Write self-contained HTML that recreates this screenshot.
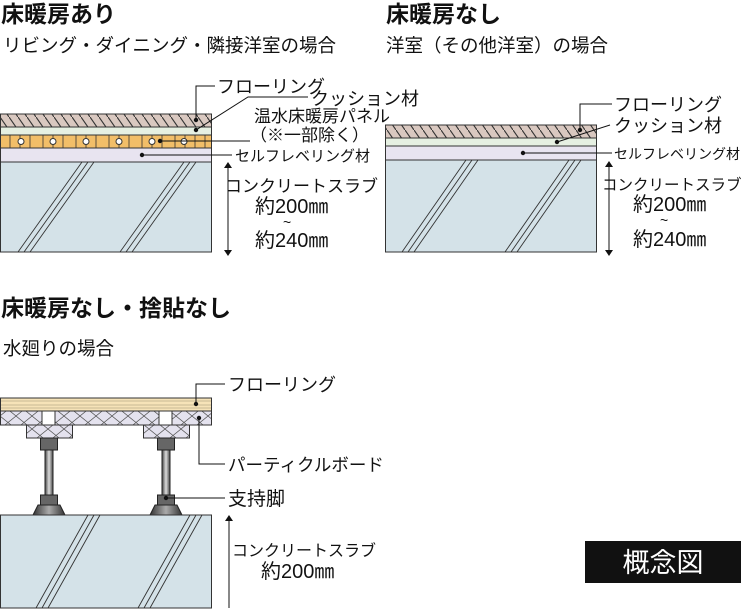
<!DOCTYPE html>
<html><head><meta charset="utf-8"><style>
html,body{margin:0;padding:0;background:#fff;width:745px;height:613px;overflow:hidden}
svg{display:block}
text{font-family:"Liberation Sans","Noto Sans CJK JP",sans-serif;fill:#111}
</style></head><body>
<svg width="745" height="613" viewBox="0 0 745 613" xmlns="http://www.w3.org/2000/svg">
<defs>
<pattern id="hatch" width="9" height="13" patternUnits="userSpaceOnUse">
<rect width="9" height="13" fill="#d9c8c0"/>
<line x1="0" y1="0" x2="9" y2="13" stroke="#333" stroke-width="1.1"/>
</pattern>
<pattern id="xh" width="16" height="13" patternUnits="userSpaceOnUse">
<rect width="16" height="13" fill="#e4e2ee"/>
<path d="M0 0L16 13M16 0L0 13" stroke="#555" stroke-width="0.7"/>
</pattern>
<pattern id="wood" width="10" height="13" patternUnits="userSpaceOnUse">
<rect width="10" height="13" fill="#f6e3b8"/>
<path d="M0 2H10M0 5H10M0 8H10M0 11H10" stroke="#b9ab8a" stroke-width="0.8"/>
</pattern>
<linearGradient id="stem" x1="0" x2="1"><stop offset="0" stop-color="#444"/><stop offset="0.5" stop-color="#ddd"/><stop offset="1" stop-color="#444"/></linearGradient>
<linearGradient id="foot" x1="0" x2="1"><stop offset="0" stop-color="#333"/><stop offset="0.5" stop-color="#aaa"/><stop offset="1" stop-color="#333"/></linearGradient>
</defs>

<!-- Titles -->
<text x="1" y="22" font-size="23" font-weight="bold">床暖房あり</text>
<text x="3" y="52" font-size="18.5">リビング・ダイニング・隣接洋室の場合</text>
<text x="386" y="22" font-size="23" font-weight="bold">床暖房なし</text>
<text x="386" y="52" font-size="18.5">洋室（その他洋室）の場合</text>
<text x="1" y="316" font-size="23" font-weight="bold">床暖房なし・捨貼なし</text>
<text x="3" y="355" font-size="18.5">水廻りの場合</text>

<!-- Left diagram -->
<rect x="0.5" y="114" width="211" height="13" fill="url(#hatch)" stroke="#333"/>
<rect x="0.5" y="127" width="211" height="8" fill="#e6f0e2" stroke="#333"/>
<rect x="0.5" y="135" width="211" height="13" fill="#f2be68" stroke="#333"/>
<g stroke="#333" stroke-width="0.8">
<path d="M10 135v13M20 135v13M30 135v13M43 135v13M53 135v13M63 135v13M76 135v13M86 135v13M96 135v13M109 135v13M119 135v13M129 135v13M142 135v13M152 135v13M162 135v13M175 135v13M185 135v13M195 135v13M205 135v13"/>
</g>
<g fill="#fff" stroke="#333"><circle cx="21" cy="141.5" r="3"/><circle cx="53" cy="141.5" r="3"/><circle cx="86" cy="141.5" r="3"/><circle cx="119" cy="141.5" r="3"/><circle cx="152" cy="141.5" r="3"/><circle cx="184" cy="141.5" r="3"/></g>
<rect x="0.5" y="148" width="211" height="14" fill="#e8e4f0" stroke="#333"/>
<rect x="0.5" y="162" width="211" height="90" fill="#d4e2e8" stroke="#333"/>
<g stroke="#333" stroke-width="0.9" fill="none">
<path d="M18 252L82 162M24 252L88 162M30 252L94 162M120 252L184 162M126 252L190 162M132 252L196 162"/>
</g>
<g stroke="#111" stroke-width="1" fill="none">
<path d="M196 120V86H215"/>
<path d="M196 130L248 97H308"/>
<path d="M160 141L250 141"/>
<path d="M142 155H232"/>
<path d="M228 167V251"/>
</g>
<g fill="#111"><circle cx="196" cy="120" r="2.2"/><circle cx="196" cy="130" r="2.2"/><circle cx="160" cy="141" r="2.2"/><circle cx="142" cy="155" r="2.2"/>
<path d="M224 168h8l-4 -6zM224 250h8l-4 6z"/></g>
<text x="217" y="93" font-size="18">フローリング</text>
<text x="311" y="105" font-size="18">クッション材</text>
<text x="254" y="122" font-size="17">温水床暖房パネル</text>
<text x="250" y="141" font-size="17">（※一部除く）</text>
<text x="235" y="161" font-size="15">セルフレベリング材</text>
<text x="225" y="192" font-size="17">コンクリートスラブ</text>
<text x="255" y="213" font-size="20">約200㎜</text>
<text x="283" y="227" font-size="14">~</text>
<text x="255" y="247" font-size="20">約240㎜</text>

<!-- Right diagram -->
<rect x="385.5" y="125" width="211" height="13" fill="url(#hatch)" stroke="#333"/>
<rect x="385.5" y="138" width="211" height="8" fill="#e6f0e2" stroke="#333"/>
<rect x="385.5" y="146" width="211" height="14" fill="#e8e4f0" stroke="#333"/>
<rect x="385.5" y="160" width="211" height="92" fill="#d4e2e8" stroke="#333"/>
<g stroke="#333" stroke-width="0.9" fill="none">
<path d="M402 252L466 160M408 252L472 160M414 252L478 160M505 252L569 160M511 252L575 160M517 252L581 160"/>
</g>
<g stroke="#111" stroke-width="1" fill="none">
<path d="M580 130V104H612"/>
<path d="M557 142L610 125"/>
<path d="M523 153H612"/>
<path d="M609 166V251"/>
</g>
<g fill="#111"><circle cx="580" cy="130" r="2.2"/><circle cx="557" cy="142" r="2.2"/><circle cx="523" cy="153" r="2.2"/>
<path d="M605 167h8l-4 -6zM605 250h8l-4 6z"/></g>
<text x="614" y="111" font-size="18">フローリング</text>
<text x="614" y="132" font-size="18">クッション材</text>
<text x="614" y="159" font-size="14">セルフレベリング材</text>
<text x="602" y="190" font-size="15.5">コンクリートスラブ</text>
<text x="633" y="211" font-size="20">約200㎜</text>
<text x="660" y="225" font-size="14">~</text>
<text x="633" y="246" font-size="20">約240㎜</text>

<!-- Bottom diagram -->
<rect x="0.5" y="398" width="211" height="13" fill="url(#wood)" stroke="#333"/>
<rect x="0.5" y="411" width="211" height="14" fill="url(#xh)" stroke="#333"/>
<rect x="42" y="411" width="13" height="14" fill="#fff" stroke="#333"/>
<rect x="159" y="411" width="13" height="14" fill="#fff" stroke="#333"/>
<g>
<rect x="26.5" y="425" width="46" height="13" fill="url(#xh)" stroke="#333"/>
<rect x="40.5" y="438" width="17" height="12" fill="#666" stroke="#222"/>
<rect x="45" y="450" width="8" height="45" fill="url(#stem)" stroke="#222"/>
<rect x="40.5" y="495" width="17" height="10" fill="#666" stroke="#222"/>
<path d="M38 505h22l5 10H33z" fill="url(#foot)" stroke="#222"/>
</g>
<g transform="translate(117 0)">
<rect x="26.5" y="425" width="46" height="13" fill="url(#xh)" stroke="#333"/>
<rect x="40.5" y="438" width="17" height="12" fill="#666" stroke="#222"/>
<rect x="45" y="450" width="8" height="45" fill="url(#stem)" stroke="#222"/>
<rect x="40.5" y="495" width="17" height="10" fill="#666" stroke="#222"/>
<path d="M38 505h22l5 10H33z" fill="url(#foot)" stroke="#222"/>
</g>
<rect x="0.5" y="515" width="211" height="93" fill="#d4e2e8" stroke="#333"/>
<g stroke="#333" stroke-width="0.9" fill="none">
<path d="M36 608L88 515M42 608L94 515M48 608L100 515M138 608L190 515M144 608L196 515M150 608L202 515"/>
</g>
<g stroke="#111" stroke-width="1" fill="none">
<path d="M196 404V384H225"/>
<path d="M199 418V464H225"/>
<path d="M166 498H225"/>
<path d="M229 520V608"/>
</g>
<g fill="#111"><circle cx="196" cy="404" r="2.2"/><circle cx="199" cy="418" r="2.2"/><circle cx="166" cy="498" r="2.2"/>
<path d="M225 521h8l-4 -6z"/></g>
<text x="228" y="391" font-size="18">フローリング</text>
<text x="228" y="471" font-size="17.5">パーティクルボード</text>
<text x="228" y="505" font-size="19">支持脚</text>
<text x="232" y="556" font-size="16">コンクリートスラブ</text>
<text x="261" y="578" font-size="20">約200㎜</text>

<rect x="585" y="541" width="156" height="42" fill="#111"/>
<text x="663" y="572" font-size="27" text-anchor="middle" style="fill:#fff">概念図</text>
</svg>
</body></html>
